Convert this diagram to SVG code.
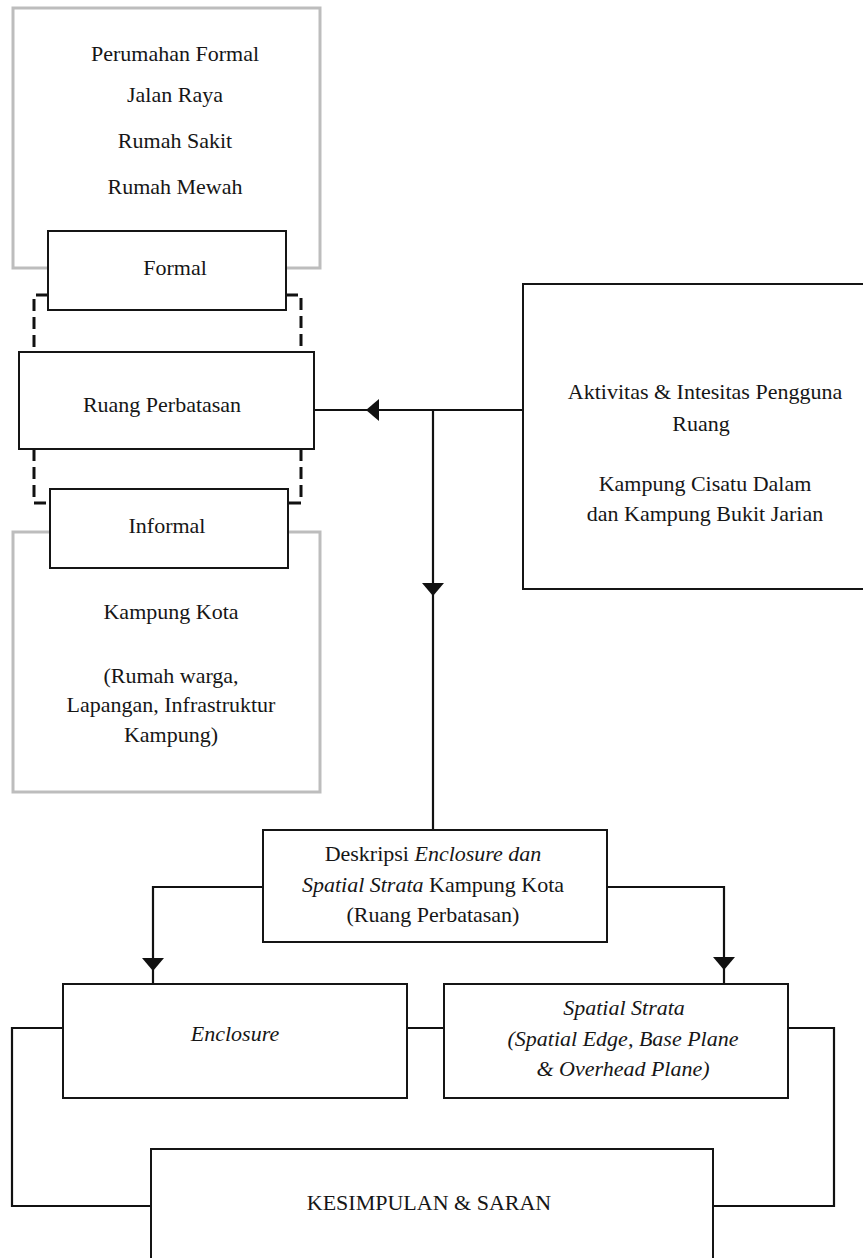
<svg xmlns="http://www.w3.org/2000/svg" width="863" height="1258" viewBox="0 0 863 1258" font-family="'Liberation Serif', 'Times New Roman', Tinos, 'DejaVu Serif', serif">
<defs>
<style>
text{font-family:'Liberation Serif','Times New Roman',Tinos,'DejaVu Serif',serif;font-size:22px;fill:#161616;text-anchor:middle}
.it{font-style:italic}
.gray{fill:#fff;stroke:#bdbdbd;stroke-width:3}
.box{fill:#fff;stroke:#151515;stroke-width:2}
.ln{fill:none;stroke:#111;stroke-width:2.2}
.dash{fill:none;stroke:#111;stroke-width:3;stroke-dasharray:12 6}
.ah{fill:#111}
</style>
</defs>
<rect width="863" height="1258" fill="#fff"/>
<g id="formal-group">
<rect class="gray" x="13" y="8" width="307" height="260"/>
<text x="175" y="61">Perumahan Formal</text>
<text x="175" y="102">Jalan Raya</text>
<text x="175" y="148">Rumah Sakit</text>
<text x="175" y="194">Rumah Mewah</text>
</g>
<g id="informal-group">
<rect class="gray" x="13" y="532" width="307" height="260"/>
<text x="171" y="619">Kampung Kota</text>
<text x="171" y="683">(Rumah warga,</text>
<text x="171" y="712">Lapangan, Infrastruktur</text>
<text x="171" y="742">Kampung)</text>
</g>
<g id="connectors">
<path class="dash" d="M48 295 H34 V352"/>
<path class="dash" d="M286 295 H301 V352"/>
<path class="dash" d="M34 449 V503 H50"/>
<path class="dash" d="M301 449 V503 H288"/>
<path class="ln" d="M523 410 H314"/>
<path class="ln" d="M433 410 V830"/>
<path class="ln" d="M263 887 H153 V984"/>
<path class="ln" d="M607 887 H724 V984"/>
<path class="ln" d="M407 1028 H444"/>
<path class="ln" d="M63 1028 H12 V1206 H151"/>
<path class="ln" d="M788 1028 H834 V1206 H713"/>
<polygon class="ah" points="366,410 379,399 379,421"/>
<polygon class="ah" points="422,583 444,583 433,596"/>
<polygon class="ah" points="142,958 164,958 153,971"/>
<polygon class="ah" points="713,957 735,957 724,970"/>
</g>
<g id="formal">
<rect class="box" x="48" y="231" width="238" height="79"/>
<text x="175" y="275">Formal</text>
</g>
<g id="ruang">
<rect class="box" x="19" y="352" width="295" height="97"/>
<text x="162" y="412">Ruang Perbatasan</text>
</g>
<g id="informal">
<rect class="box" x="50" y="489" width="238" height="79"/>
<text x="167" y="533">Informal</text>
</g>
<g id="aktivitas">
<rect class="box" x="523" y="284" width="370" height="305"/>
<text x="705" y="399">Aktivitas &amp; Intesitas Pengguna</text>
<text x="701" y="431">Ruang</text>
<text x="705" y="491">Kampung Cisatu Dalam</text>
<text x="705" y="521">dan Kampung Bukit Jarian</text>
</g>
<g id="deskripsi">
<rect class="box" x="263" y="830" width="344" height="112"/>
<text x="433" y="861">Deskripsi <tspan class="it">Enclosure dan</tspan></text>
<text x="433" y="892"><tspan class="it">Spatial Strata</tspan> Kampung Kota</text>
<text x="433" y="922">(Ruang Perbatasan)</text>
</g>
<g id="enclosure">
<rect class="box" x="63" y="984" width="344" height="114"/>
<text class="it" x="235" y="1041">Enclosure</text>
</g>
<g id="spatial-strata">
<rect class="box" x="444" y="984" width="344" height="114"/>
<text class="it" x="624" y="1015">Spatial Strata</text>
<text class="it" x="623" y="1046">(Spatial Edge, Base Plane</text>
<text class="it" x="623" y="1076">&amp; Overhead Plane)</text>
</g>
<g id="kesimpulan">
<rect class="box" x="151" y="1149" width="562" height="120"/>
<text x="429" y="1210">KESIMPULAN &amp; SARAN</text>
</g>
</svg>
